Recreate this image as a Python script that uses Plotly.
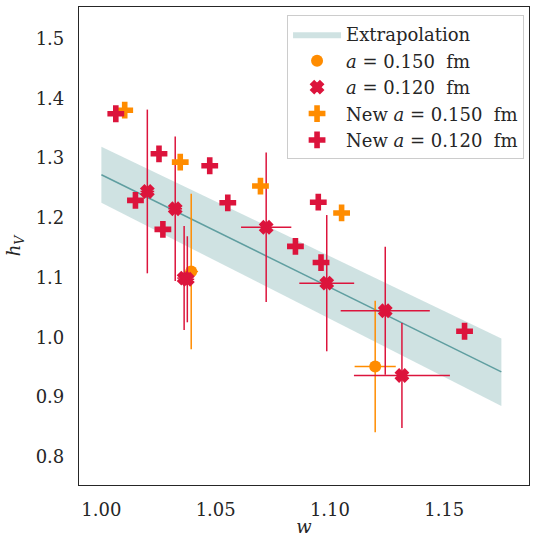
import plotly.graph_objects as go

# Extrapolation band
band_w = [1.0, 1.175]
band_center = [1.272, 0.942]
band_lower = [1.225, 0.885]
band_upper = [1.319, 0.998]

# a = 0.150 fm
a150_w = [1.0393, 1.1198]
a150_h = [1.110, 0.951]
a150_herr = [0.130, 0.110]
a150_werr = [0.003, 0.009]

# a = 0.120 fm
a120_w = [1.0201, 1.0323, 1.0362, 1.0376, 1.0721, 1.0986, 1.1242, 1.1315]
a120_h = [1.244, 1.215, 1.099, 1.097, 1.184, 1.0905, 1.0443, 0.936]
a120_herr = [0.137, 0.121, 0.087, 0.072, 0.125, 0.114, 0.107, 0.088]
a120_werr = [0.003, 0.003, 0.003, 0.003, 0.011, 0.012, 0.0195, 0.021]

# New a = 0.150 fm
new150_w = [1.0102, 1.0345, 1.0696, 1.1051]
new150_h = [1.380, 1.293, 1.253, 1.208]

# New a = 0.120 fm
new120_w = [1.0063, 1.0149, 1.0252, 1.0269, 1.0474, 1.0553, 1.0849, 1.0949, 1.0961, 1.1589]
new120_h = [1.374, 1.229, 1.307, 1.1805, 1.287, 1.225, 1.152, 1.226, 1.125, 1.010]

x_ticks = [1.00, 1.05, 1.10, 1.15]
y_ticks = [0.8, 0.9, 1.0, 1.1, 1.2, 1.3, 1.4, 1.5]

ORANGE = "#FF8C00"
CRIMSON = "#DC143C"
CADET = "#5F9EA0"
BAND = "rgba(95,158,160,0.3)"
FONT = "DejaVu Serif"
TXT = "#262626"

fig = go.Figure()

fig.add_trace(go.Scatter(x=band_w, y=band_lower, mode="lines", line=dict(width=0),
                         showlegend=False, hoverinfo="skip", legendgroup="g0"))
fig.add_trace(go.Scatter(x=band_w, y=band_upper, mode="lines", line=dict(width=0),
                         fill="tonexty", fillcolor=BAND, name="Extrapolation", legendgroup="g0"))
fig.add_trace(go.Scatter(x=band_w, y=band_center, mode="lines",
                         line=dict(color=CADET, width=1.5), showlegend=False, legendgroup="g0"))

fig.add_trace(go.Scatter(
    x=a150_w, y=a150_h, mode="markers", name="<i>a</i> = 0.150  fm", legendgroup="g1",
    marker=dict(symbol="circle", size=12, color=ORANGE),
    error_y=dict(type="data", array=a150_herr, color=ORANGE, thickness=1.5, width=0),
    error_x=dict(type="data", array=a150_werr, color=ORANGE, thickness=1.5, width=0)))

fig.add_trace(go.Scatter(
    x=a120_w, y=a120_h, mode="markers", name="<i>a</i> = 0.120  fm", legendgroup="g2",
    marker=dict(symbol="x", size=10, color=CRIMSON, line=dict(color=CRIMSON, width=2.5)),
    error_y=dict(type="data", array=a120_herr, color=CRIMSON, thickness=1.5, width=0),
    error_x=dict(type="data", array=a120_werr, color=CRIMSON, thickness=1.5, width=0)))

fig.add_trace(go.Scatter(
    x=new150_w, y=new150_h, mode="markers", name="New <i>a</i> = 0.150  fm", legendgroup="g3",
    marker=dict(symbol="cross", size=14, color=ORANGE)))

fig.add_trace(go.Scatter(
    x=new120_w, y=new120_h, mode="markers", name="New <i>a</i> = 0.120  fm", legendgroup="g4",
    marker=dict(symbol="cross", size=14, color=CRIMSON)))

fig.update_layout(
    width=533, height=537,
    margin=dict(l=79, r=3, t=7, b=50),
    plot_bgcolor="white", paper_bgcolor="white",
    font=dict(family=FONT, size=18, color=TXT),
    legend=dict(x=0.989, y=0.983, xanchor="right", yanchor="top", traceorder="normal",
                bordercolor="#cccccc", borderwidth=1, bgcolor="rgba(255,255,255,0.9)",
                font=dict(family=FONT, size=18, color=TXT), tracegroupgap=6,
                itemwidth=48),
)
fig.update_xaxes(range=[0.9902, 1.1871], tickvals=x_ticks, ticktext=[f"{v:.2f}" for v in x_ticks],
                 showgrid=False, zeroline=False, showline=True, linecolor=TXT, linewidth=1.2,
                 mirror=True, ticks="outside", ticklen=8, tickcolor="rgba(0,0,0,0)",
                 tickfont=dict(size=18), title=dict(text="<i>w</i>", standoff=2, font=dict(size=18)))
fig.update_yaxes(range=[0.7527, 1.5527], tickvals=y_ticks, ticktext=[f"{v:.1f}" for v in y_ticks],
                 showgrid=False, zeroline=False, showline=True, linecolor=TXT, linewidth=1.2,
                 mirror=True, ticks="outside", ticklen=10, tickcolor="rgba(0,0,0,0)",
                 tickfont=dict(size=18),
                 title=dict(text="<i>h</i><sub><i>V</i></sub>", standoff=10, font=dict(size=18)))

fig.write_html("out.html")
